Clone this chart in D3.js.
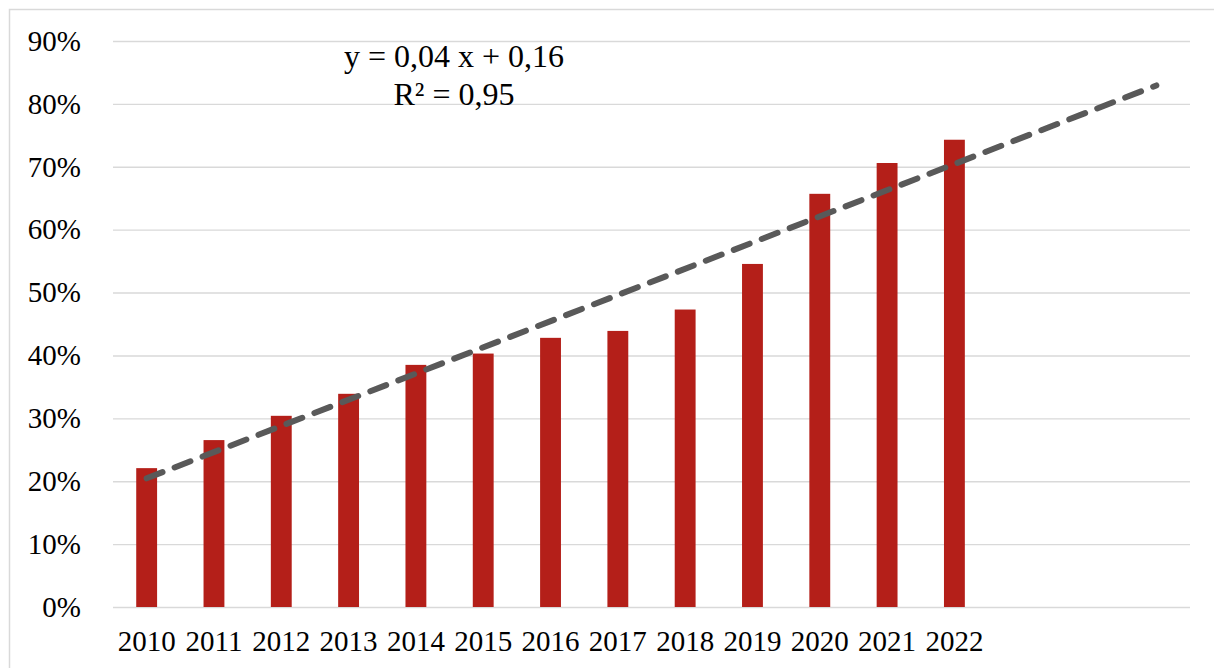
<!DOCTYPE html>
<html>
<head>
<meta charset="utf-8">
<script src="https://cdn.jsdelivr.net/npm/d3@7"></script>
<style>
  body { margin: 0; background: #fff; }
</style>
</head>
<body>
<div id="chart"></div>
<script>
// Data
const years = [2010, 2011, 2012, 2013, 2014, 2015, 2016, 2017, 2018, 2019, 2020, 2021, 2022];
const shares = [0.2208, 0.2654, 0.3040, 0.3390, 0.3850, 0.4030, 0.4280, 0.4390, 0.4730, 0.5455, 0.6570, 0.7060, 0.7430];
const forecastPeriods = 3; // trendline runs 3 periods ahead
const yTicks = [0, 0.1, 0.2, 0.3, 0.4, 0.5, 0.6, 0.7, 0.8, 0.9];

const fontFamily = "'Liberation Serif', 'Times New Roman', serif";

const totalW = 1214, totalH = 668;
const margin = { top: 41, right: 24, bottom: 61, left: 113 };
const width = totalW - margin.left - margin.right;
const height = totalH - margin.top - margin.bottom;

const root = d3.select("#chart")
    .append("svg")
    .attr("width", totalW)
    .attr("height", totalH);

// Chart area border (cropped at right/bottom in the original)
root.append("rect")
    .attr("x", 9.5)
    .attr("y", 9.5)
    .attr("width", totalW + 50)
    .attr("height", totalH + 50)
    .attr("fill", "none")
    .attr("stroke", "#d9d9d9")
    .attr("stroke-width", 1.5);

const svg = root.append("g")
    .attr("transform", `translate(${margin.left}, ${margin.top})`);

// Slots: data years plus the forecast periods
const slots = d3.range(years.length + forecastPeriods);
const x = d3.scaleBand()
    .domain(slots)
    .range([0, width])
    .padding(0);

const y = d3.scaleLinear()
    .domain([0, 0.9])
    .range([height, 0]);

// Y axis with gridlines
const yAxis = svg.append("g")
    .attr("class", "y-axis")
    .call(d3.axisLeft(y)
        .tickValues(yTicks)
        .tickSize(-width)
        .tickPadding(32)
        .tickFormat(d3.format(".0%")));
yAxis.attr("font-family", fontFamily).attr("font-size", 29);
yAxis.select(".domain").remove();
yAxis.selectAll(".tick line")
    .attr("stroke", "#d9d9d9")
    .attr("stroke-width", 1.4);
yAxis.selectAll(".tick text")
    .attr("fill", "#000");

// X axis labels
const xAxis = svg.append("g")
    .attr("class", "x-axis")
    .attr("transform", `translate(0, ${height})`)
    .call(d3.axisBottom(x)
        .tickValues(d3.range(years.length))
        .tickSize(0)
        .tickPadding(23)
        .tickFormat(i => years[i]));
xAxis.attr("font-family", fontFamily).attr("font-size", 29);
xAxis.select(".domain").remove();
xAxis.selectAll(".tick text")
    .attr("fill", "#000");

// Bars
const barW = x.step() * 0.31;
svg.selectAll(".bar")
    .data(shares)
    .join("rect")
    .attr("class", "bar")
    .attr("x", (d, i) => x(i) + x.bandwidth() / 2 - barW / 2)
    .attr("y", d => y(d))
    .attr("width", barW)
    .attr("height", d => height - y(d))
    .attr("fill", "#b41f19");

// Linear trendline (least squares on period number 1..n)
const n = shares.length;
const xs = d3.range(1, n + 1);
const mx = d3.mean(xs), my = d3.mean(shares);
const sxy = d3.sum(xs, (v, i) => (v - mx) * (shares[i] - my));
const sxx = d3.sum(xs, v => (v - mx) ** 2);
const slope = sxy / sxx;
const intercept = my - slope * mx;
const ssTot = d3.sum(shares, v => (v - my) ** 2);
const ssRes = d3.sum(shares, (v, i) => (v - (intercept + slope * xs[i])) ** 2);
const r2 = 1 - ssRes / ssTot;

const trendPts = [0, slots.length - 1].map(i => [i, intercept + slope * (i + 1)]);
const line = d3.line()
    .x(d => x(d[0]) + x.bandwidth() / 2)
    .y(d => y(d[1]));

svg.append("path")
    .datum(trendPts)
    .attr("fill", "none")
    .attr("stroke", "#595959")
    .attr("stroke-width", 6)
    .attr("stroke-linecap", "round")
    .attr("stroke-dasharray", "17,13")
    .attr("d", line);

// Trendline label
const fmt = v => d3.format(".2f")(v).replace(".", ",");
const label = root.append("text")
    .attr("text-anchor", "middle")
    .attr("font-family", fontFamily)
    .attr("font-size", 32)
    .attr("fill", "#000");
label.append("tspan")
    .attr("x", 454)
    .attr("y", 67)
    .text(`y = ${fmt(slope)} x + ${fmt(intercept)}`);
label.append("tspan")
    .attr("x", 454)
    .attr("y", 105)
    .text(`R² = ${fmt(r2)}`);
</script>
</body>
</html>
